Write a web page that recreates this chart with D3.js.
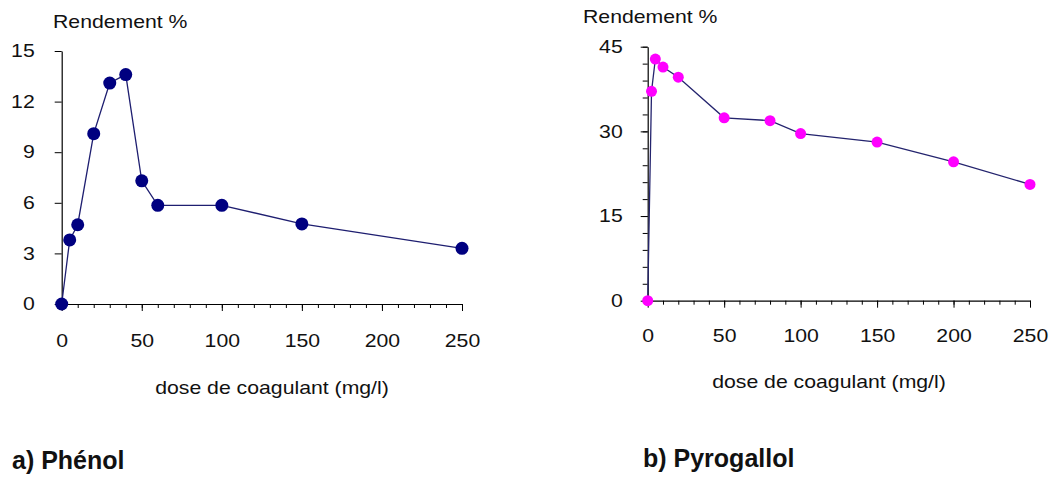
<!DOCTYPE html>
<html>
<head>
<meta charset="utf-8">
<script src="https://cdn.jsdelivr.net/npm/d3@7"></script>
<style>
  html, body { margin: 0; padding: 0; background: #fff; }
  svg { display: block; }
  text { font-family: "Liberation Sans", Arial, sans-serif; fill: #111; }
  .tick text { font-size: 18px; }
  .lbl { font-size: 18px; }
  .ttl { font-size: 25px; font-weight: bold; }
</style>
</head>
<body>
<svg id="chart" width="1050" height="477"></svg>
<script>
// Phénol: yield (%) vs coagulant dose (mg/l)
const phenolDose  = [0, 5, 10, 20, 30, 40, 50, 60, 100, 150, 250];
const phenolYield = [0, 3.8, 4.7, 10.1, 13.1, 13.6, 7.3, 5.85, 5.85, 4.75, 3.3];

// Pyrogallol: yield (%) vs coagulant dose (mg/l)
const pyroDose  = [0, 2.5, 5, 10, 20, 50, 80, 100, 150, 200, 250];
const pyroYield = [0, 37.1, 42.8, 41.4, 39.6, 32.4, 31.9, 29.6, 28.1, 24.6, 20.6];

// Tick values
const doseTicks      = [0, 50, 100, 150, 200, 250];
const doseMinorTicks = d3.range(0, 251, 10);
const phenolTicks    = [0, 3, 6, 9, 12, 15];
const pyroTicks      = [0, 15, 30, 45];
const pyroMinorTicks = d3.range(0, 46, 3);

// Text labels
const yTitle = "Rendement %";
const xTitle = "dose de coagulant (mg/l)";
const panelTitles = ["a) Phénol", "b) Pyrogallol"];

const SX = 1.18; // horizontal widening of the axis text

const svg = d3.select("#chart");

function label(g, x, y, str, anchor, cls) {
  return g.append("text")
    .attr("class", cls)
    .attr("transform", `translate(${x},${y}) scale(${cls === "ttl" ? 1 : SX},1)`)
    .attr("text-anchor", anchor)
    .text(str);
}

function panel(opts) {
  const g = svg.append("g");
  const x = d3.scaleLinear().domain([0, 250]).range(opts.xRange);
  const y = d3.scaleLinear().domain(opts.yDomain).range(opts.yRange);
  const x0 = opts.xRange[0], y0 = opts.yRange[0];

  // x axis: minor ticks every 10, major every 50
  g.append("g")
    .attr("transform", `translate(0,${y0})`)
    .call(d3.axisBottom(x).tickValues(doseMinorTicks).tickFormat("").tickSize(4).tickSizeOuter(0))
    .call(a => a.select(".domain").remove());
  const xa = g.append("g")
    .attr("transform", `translate(0,${y0})`)
    .call(d3.axisBottom(x).tickValues(doseTicks).tickSize(7).tickSizeOuter(0));
  xa.selectAll(".tick text")
    .attr("y", opts.xLabelY).attr("dy", null)
    .attr("transform", `scale(${SX},1)`);

  // y axis
  if (opts.yMinor) {
    g.append("g")
      .attr("transform", `translate(${x0},0)`)
      .call(d3.axisLeft(y).tickValues(opts.yMinor).tickFormat("").tickSize(5).tickSizeOuter(0))
      .call(a => a.select(".domain").remove());
  }
  const ya = g.append("g")
    .attr("transform", `translate(${x0},0)`)
    .call(d3.axisLeft(y).tickValues(opts.yTicks).tickSize(7).tickSizeOuter(0));
  ya.selectAll(".tick text")
    .attr("x", -opts.yLabelGap / SX)
    .attr("transform", `scale(${SX},1)`);

  g.selectAll(".domain").attr("stroke", "#000").attr("stroke-width", 1.2);
  g.selectAll(".tick line").attr("stroke", "#000");

  // series line
  const pts = opts.dose.map((d, i) => [d, opts.vals[i]]);
  g.append("path")
    .datum(pts)
    .attr("fill", "none")
    .attr("stroke", opts.lineColor)
    .attr("stroke-width", 1.3)
    .attr("d", d3.line().x(d => x(d[0])).y(d => y(d[1])));

  // markers
  g.selectAll("circle.pt")
    .data(pts)
    .join("circle")
    .attr("class", "pt")
    .attr("cx", d => x(d[0]))
    .attr("cy", d => y(d[1]))
    .attr("r", opts.r)
    .attr("fill", opts.markColor);

  // labels
  label(g, opts.yTitlePos[0], opts.yTitlePos[1], yTitle, "start", "lbl");
  label(g, opts.xTitlePos[0], opts.xTitlePos[1], xTitle, "middle", "lbl");
  label(g, opts.titlePos[0], opts.titlePos[1], opts.title, "start", "ttl");
}

panel({
  dose: phenolDose, vals: phenolYield,
  xRange: [61.7, 462], yDomain: [0, 15], yRange: [304, 51],
  yTicks: phenolTicks, yMinor: null,
  xLabelY: 43, yLabelGap: 27,
  lineColor: "#1e1e70", markColor: "#000080", r: 6.5,
  yTitlePos: [53, 28], xTitlePos: [272, 394], titlePos: [12, 469],
  title: panelTitles[0]
});

panel({
  dose: pyroDose, vals: pyroYield,
  xRange: [647.7, 1030], yDomain: [0, 45], yRange: [300.7, 46.7],
  yTicks: pyroTicks, yMinor: pyroMinorTicks,
  xLabelY: 41, yLabelGap: 25,
  lineColor: "#24246e", markColor: "#ff00ff", r: 5.5,
  yTitlePos: [583, 23], xTitlePos: [829, 388], titlePos: [643, 467],
  title: panelTitles[1]
});
</script>
</body>
</html>
